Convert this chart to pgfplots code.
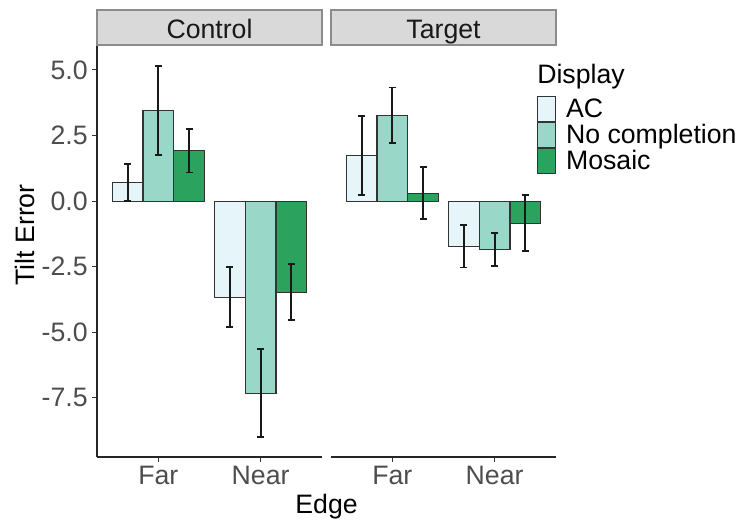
\documentclass[border=0pt]{standalone}
\usepackage{fontspec}
\setmainfont{Liberation Sans}
\usepackage{pgfplots}
\pgfplotsset{compat=1.18}
\definecolor{cAC}{HTML}{E5F5F9}
\definecolor{cNC}{HTML}{99D8C9}
\definecolor{cMO}{HTML}{2CA25F}
\definecolor{tickgray}{HTML}{4D4D4D}
\definecolor{stripfill}{HTML}{D9D9D9}
\definecolor{stripline}{HTML}{8C8C8C}
\definecolor{barline}{HTML}{333333}
\pgfplotsset{
 facet/.style={
  scale only axis, width=168.75pt, height=309pt,
  xmin=0.4, xmax=2.6, ymin=-9.75, ymax=5.95,
  xtick={1,2}, xticklabels={Far,Near},
  ytick={-7.5,-5,-2.5,0,2.5,5},
  axis x line*=bottom,
  axis line style={line width=1.1pt, black!85, -},
  tick style={line width=0.8pt, black!80},
  tick align=outside, major tick length=3.5pt,
  ticklabel style={font=\fontsize{20}{24}\selectfont, text=tickgray},
  /pgf/number format/assume math mode=true,
  yticklabel style={/pgf/number format/.cd, fixed, fixed zerofill, precision=1},
  clip=false,
 },
 bars/.style={ybar, bar width=0.3, bar shift=0pt, draw=barline, line width=0.8pt, fill=#1,
  error bars/.cd, y dir=both, y explicit, error mark=-,
  error bar style={line width=1.4pt, black!90},
  error mark options={rotate=90, line width=1.4pt, mark size=2.6pt, black!90},
  /pgfplots/.cd,
  legend image code/.code={\draw[fill=#1,draw=barline,line width=0.8pt] (0pt,-9.375pt) rectangle (13.5pt,9.375pt);}},
}
\begin{document}
\begin{tikzpicture}
\useasboundingbox (0,0) rectangle (555.75pt,392.25pt);
\begin{axis}[facet, name=ctrl, at={(72.75pt,49.5pt)}, anchor=south west, axis y line*=left]
\addplot[bars=cAC] coordinates {(0.7,0.70) +- (0,0.70) (1.7,-3.655) +- (0,1.135)};
\addplot[bars=cNC] coordinates {(1.0,3.455) +- (0,1.685) (2.0,-7.325) +- (0,1.675)};
\addplot[bars=cMO] coordinates {(1.3,1.925) +- (0,0.835) (2.3,-3.465) +- (0,1.055)};
\end{axis}
\begin{axis}[facet, name=targ, at={(248.25pt,49.5pt)}, anchor=south west, axis y line=none,
  legend style={at={(0.9156,0.876)}, anchor=north west, draw=none, fill=none, inner sep=0pt, outer sep=0pt,
    row sep=0pt, font=\fontsize{20}{24}\selectfont,
    nodes={inner sep=0pt, minimum height=18.75pt, anchor=west},
    /tikz/every odd column/.style={column sep=7.5pt}},
  legend cell align=left]
\addplot[bars=cAC] coordinates {(0.7,1.725) +- (0,1.505) (1.7,-1.715) +- (0,0.815)};
\addplot[bars=cNC] coordinates {(1.0,3.28) +- (0,1.05) (2.0,-1.85) +- (0,0.62)};
\addplot[bars=cMO] coordinates {(1.3,0.30) +- (0,0.99) (2.3,-0.835) +- (0,1.055)};
\legend{AC,No completion,Mosaic}
\end{axis}
\foreach \a/\t in {ctrl/Control,targ/Target}{
  \draw[stripline, fill=stripfill, line width=0.8pt] (\a.north west) rectangle ([yshift=26.25pt]\a.north east);
  \node[anchor=base, inner sep=0pt, font=\fontsize{20}{24}\selectfont, text=black!90] at ([yshift=5pt]\a.north) {\t};
}
\node[rotate=90, font=\fontsize{20}{24}\selectfont] at (18.75pt,216pt) {Tilt Error};
\node[font=\fontsize{20}{24}\selectfont] at (244.9pt,12pt) {Edge};
\node[anchor=west, inner sep=0pt, font=\fontsize{20}{24}\selectfont] at (402.75pt,334.5pt) {Display};
\end{tikzpicture}
\end{document}
